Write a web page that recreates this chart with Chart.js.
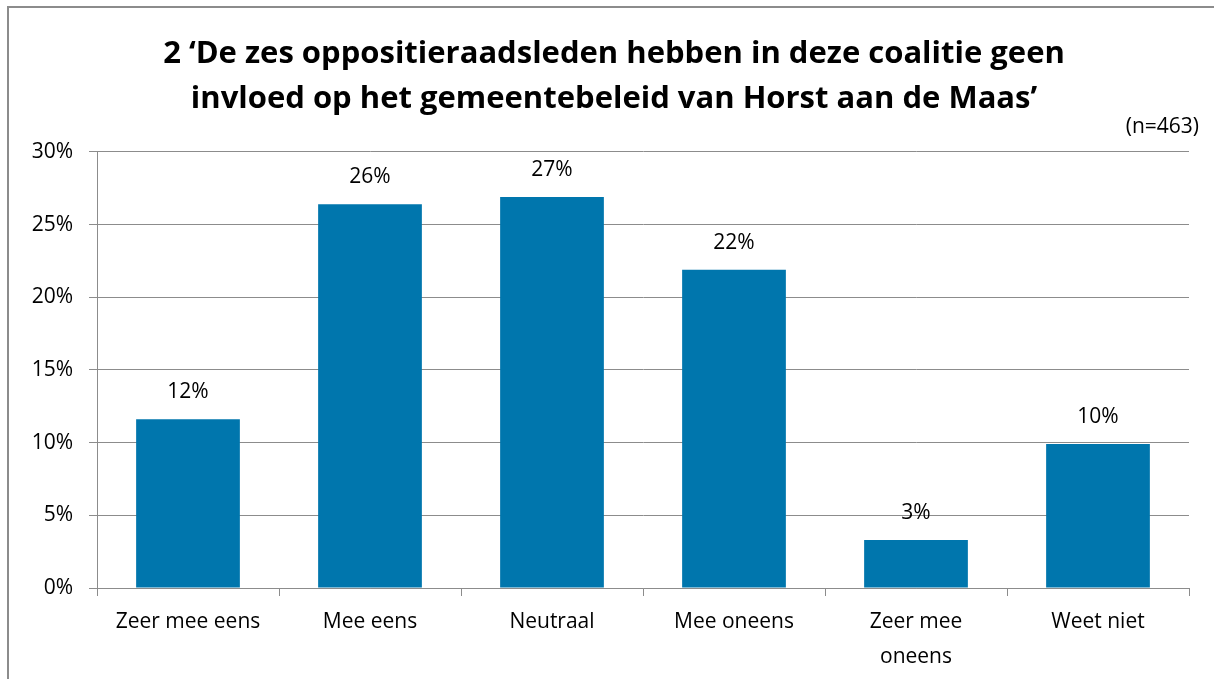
<!DOCTYPE html>
<html>
<head>
<meta charset="utf-8">
<script src="https://cdn.jsdelivr.net/npm/chart.js@4.4.1/dist/chart.umd.min.js"></script>
<style>
html,body{margin:0;padding:0;background:#fff;}
#wrap{position:relative;width:1214px;height:679px;}
</style>
</head>
<body>
<div id="wrap"><canvas id="c" width="1214" height="679"></canvas></div>
<script>
const categories = ["Zeer mee eens", "Mee eens", "Neutraal", "Mee oneens", ["Zeer mee", "oneens"], "Weet niet"];
const values = [11.6, 26.4, 26.9, 21.9, 3.3, 9.9];
const valueLabels = ["12%", "26%", "27%", "22%", "3%", "10%"];
const yTicks = [0, 5, 10, 15, 20, 25, 30];
const titleLines = ["2 \u2018De zes oppositieraadsleden hebben in deze coalitie geen", "invloed op het gemeentebeleid van Horst aan de Maas\u2019"];
const noteText = "(n=463)";

const FONT = "'Open Sans', Lato, sans-serif";
const GRID = '#8c8c8c';

const extras = {
  id: 'extras',
  afterLayout(chart) {
    if (chart.titleBlock) { chart.titleBlock.left = 39; chart.titleBlock.right = 1189; }
  },
  beforeDraw(chart) {
    const ctx = chart.ctx;
    ctx.save();
    ctx.strokeStyle = '#8c8c8c';
    ctx.lineWidth = 2;
    ctx.strokeRect(8, 7, 1300, 800);
    ctx.restore();
  },
  afterDatasetsDraw(chart) {
    const ctx = chart.ctx;
    const meta = chart.getDatasetMeta(0);
    ctx.save();
    ctx.fillStyle = '#000';
    ctx.font = '21px ' + FONT;
    ctx.textAlign = 'center';
    ctx.textBaseline = 'middle';
    meta.data.forEach((bar, i) => {
      ctx.fillText(valueLabels[i], bar.x, bar.y - 27);
    });
    ctx.textAlign = 'right';
    ctx.fillText(noteText, chart.chartArea.right + 10, chart.chartArea.top - 25);
    ctx.restore();
  }
};

new Chart(document.getElementById('c'), {
  type: 'bar',
  data: {
    labels: categories,
    datasets: [{
      data: values,
      backgroundColor: '#0076AD',
      barPercentage: 0.57,
      categoryPercentage: 1.0
    }]
  },
  options: {
    responsive: false,
    animation: false,
    devicePixelRatio: 1,
    layout: { padding: { left: 14, right: 25, top: 0, bottom: 0 } },
    plugins: {
      legend: { display: false },
      tooltip: { enabled: false },
      title: {
        display: true,
        text: titleLines,
        color: '#000',
        font: { family: FONT, size: 31, weight: 'bold', lineHeight: 1.45 },
        padding: { top: 32, bottom: 30 }
      }
    },
    scales: {
      x: {
        grid: { display: true, drawOnChartArea: false, drawTicks: true, tickLength: 8, color: GRID, offset: true },
        border: { display: true, color: GRID, width: 1 },
        ticks: { color: '#000', font: { family: FONT, size: 21, lineHeight: 1.67 }, padding: 8, maxRotation: 0, autoSkip: false },
        afterFit(s) { s.height = 91; }
      },
      y: {
        min: 0, max: 30,
        afterBuildTicks(s) { s.ticks = yTicks.map(v => ({ value: v })); },
        grid: { color: GRID, lineWidth: 1, drawTicks: true, tickLength: 8 },
        border: { display: true, color: GRID, width: 1 },
        ticks: { color: '#000', font: { family: FONT, size: 21 }, padding: 16, callback: v => v + '%' },
        afterFit(s) { s.width = 83; }
      }
    }
  },
  plugins: [extras]
});
</script>
</body>
</html>
